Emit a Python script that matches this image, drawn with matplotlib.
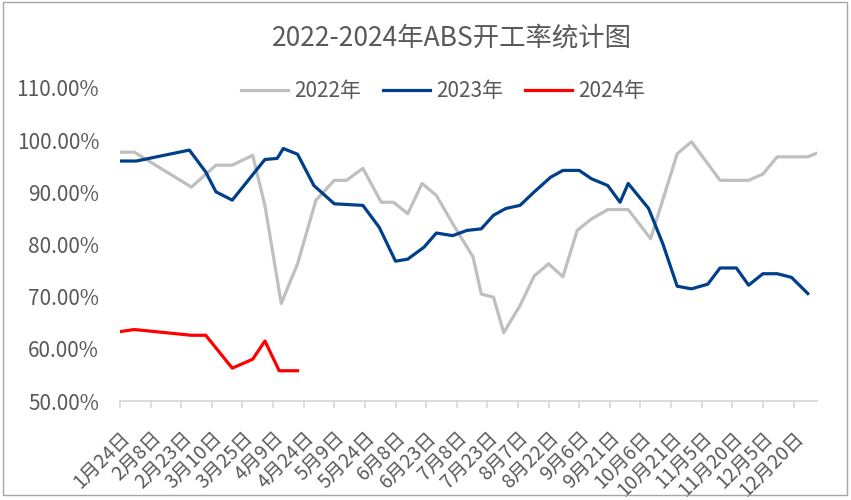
import numpy as np
import matplotlib
matplotlib.use('Agg')
import matplotlib.pyplot as plt
from matplotlib.patches import Rectangle

plt.rcParams['font.family'] = ['Noto Sans CJK SC', 'DejaVu Sans']

# x values are days after Jan 24
days_2022 = [0, 7, 35, 47, 55, 65, 71, 79, 87, 96, 105, 111, 119, 128, 134, 141, 148, 155,
             163, 173, 177, 183, 188, 196, 203, 210, 217, 224, 231, 239, 249, 260, 273, 280,
             294, 308, 315, 322, 337, 342]
rate_2022 = [97.7, 97.7, 91.0, 95.2, 95.2, 97.1, 87.5, 68.7, 76.3, 88.5, 92.3, 92.3, 94.6, 88.1,
             88.1, 85.9, 91.7, 89.4, 84.0, 77.6, 70.5, 69.9, 63.1, 68.3, 74.0, 76.3, 73.8, 82.7,
             84.9, 86.7, 86.7, 81.1, 97.4, 99.7, 92.3, 92.3, 93.5, 96.8, 96.8, 97.6]

days_2023 = [0, 8, 34, 42, 47, 55, 71, 77, 80, 87, 95, 105, 119, 127, 135, 141, 149, 155, 163,
             170, 177, 183, 189, 196, 203, 211, 217, 225, 231, 239, 245, 249, 259, 266, 273,
             280, 288, 294, 302, 308, 315, 322, 329, 337]
rate_2023 = [96.0, 96.0, 98.1, 93.9, 90.1, 88.5, 96.3, 96.5, 98.4, 97.3, 91.3, 87.8, 87.5, 83.3,
             76.8, 77.2, 79.5, 82.2, 81.7, 82.7, 83.0, 85.6, 86.9, 87.5, 90.1, 92.9, 94.2, 94.2,
             92.6, 91.3, 88.1, 91.7, 86.9, 80.1, 72.0, 71.5, 72.4, 75.5, 75.5, 72.2, 74.4, 74.4,
             73.7, 70.6]

days_2024 = [0, 7, 35, 42, 55, 65, 71, 78, 80, 87]
rate_2024 = [63.3, 63.7, 62.6, 62.6, 56.3, 58.0, 61.5, 55.8, 55.8, 55.8]

tick_days = list(range(0, 331, 15))
tick_labels = ['1月24日', '2月8日', '2月23日', '3月10日', '3月25日', '4月9日', '4月24日', '5月9日',
               '5月24日', '6月8日', '6月23日', '7月8日', '7月23日', '8月7日', '8月22日', '9月6日',
               '9月21日', '10月6日', '10月21日', '11月5日', '11月20日', '12月5日', '12月20日']

txt = '#595959'
fig = plt.figure(figsize=(8.51, 5.0), dpi=100)
ax = fig.add_axes([120/851, 1-401/500, (817-120)/851, (401-88)/500])

ax.plot(days_2022, rate_2022, color='#BFBFBF', lw=2.3, label='2022年', solid_joinstyle='round')
ax.plot(days_2023, rate_2023, color='#003F8A', lw=2.3, label='2023年', solid_joinstyle='round')
ax.plot(days_2024, rate_2024, color='#FF0000', lw=2.3, label='2024年', solid_joinstyle='round')

ax.set_xlim(0, 341.5)
ax.set_ylim(50, 110)
ax.set_yticks(np.arange(50, 111, 10))
ax.set_yticklabels(['{:.2f}%'.format(v) for v in np.arange(50, 111, 10)], fontsize=15, color=txt)
ax.set_xticks(tick_days)
ax.set_xticklabels(tick_labels, rotation=45, ha='right', va='top', rotation_mode='anchor',
                   fontsize=14, color=txt)

for s in ['top', 'right', 'left']:
    ax.spines[s].set_visible(False)
ax.spines['bottom'].set_color('#D9D9D9')
ax.spines['bottom'].set_linewidth(1.3)
ax.tick_params(axis='y', length=0, pad=15)
ax.tick_params(axis='x', length=5, width=1.2, color='#D9D9D9', direction='out', pad=14)

fig.text(452/851, 1-38/500, '2022-2024年ABS开工率统计图', ha='center', va='center',
         fontsize=19, color=txt)
leg = fig.legend(loc='center', bbox_to_anchor=(443/851, 1-91/500), ncol=3, frameon=False,
                 fontsize=15, handlelength=2.25, handletextpad=0.3, columnspacing=1.05)
for t in leg.get_texts():
    t.set_color(txt)

fig.patches.append(Rectangle((3/851, 1-495/500), 844/851, 493/500, transform=fig.transFigure,
                             fill=False, edgecolor='#A6A6A6', lw=1))

fig.savefig('out.png', dpi=100)
